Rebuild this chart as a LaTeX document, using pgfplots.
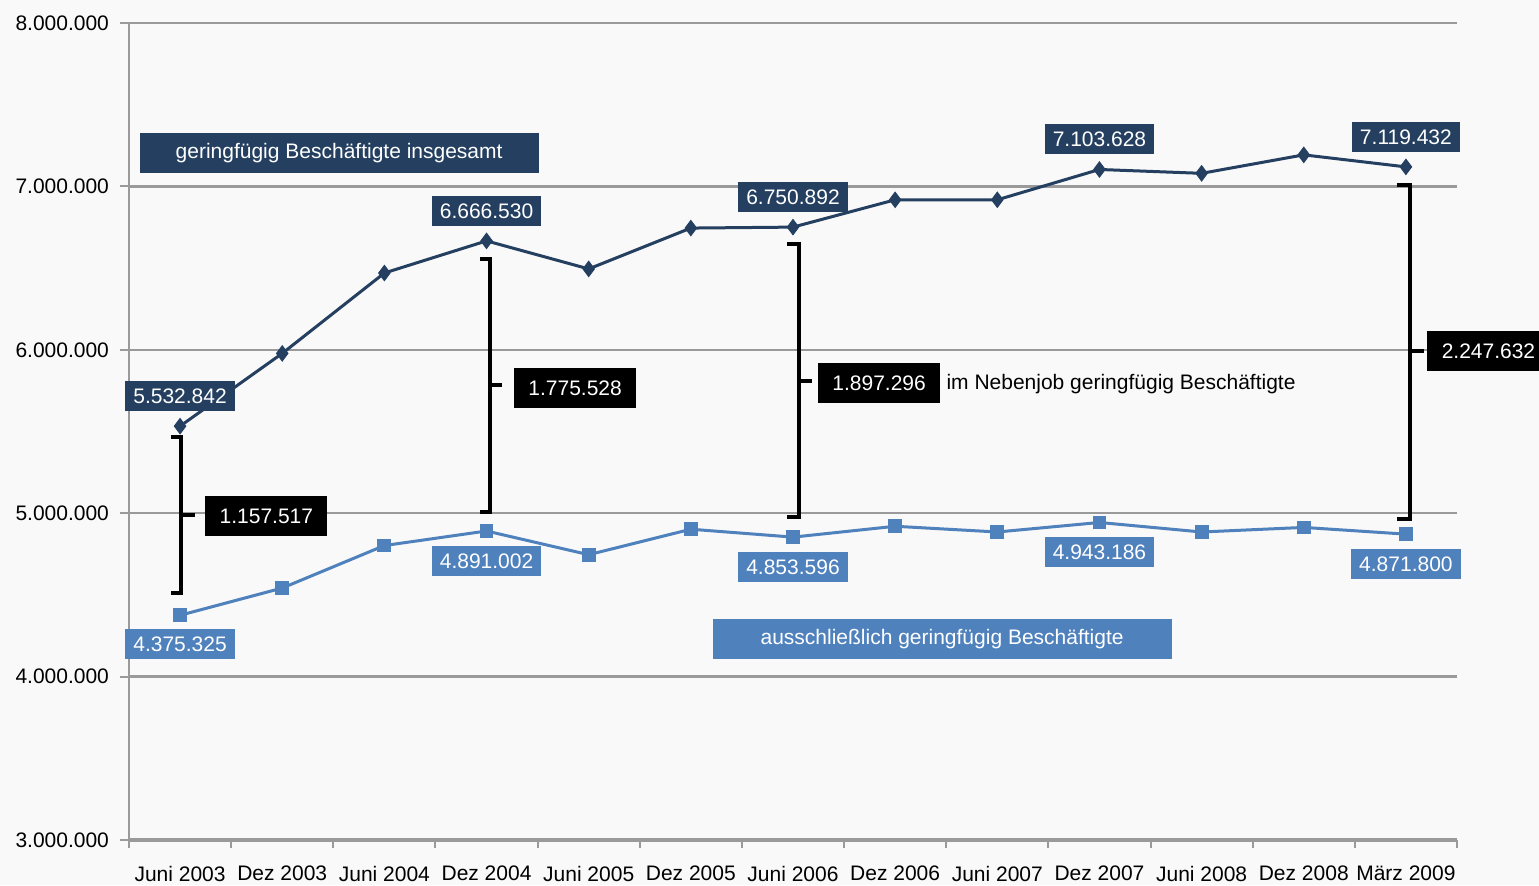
\documentclass[border=0pt]{standalone}
\usepackage{pgfplots}
\pgfplotsset{compat=1.18}
\usepackage{fontspec}
\setmainfont{Liberation Sans}
\definecolor{dark}{HTML}{243F60}
\definecolor{light}{HTML}{4F81BD}
\definecolor{gridc}{HTML}{9A9A9A}
\definecolor{bg}{HTML}{F9F9F9}
\begin{document}
\begin{tikzpicture}[font=\fontsize{10.5}{12}\selectfont]
\fill[bg] (-64.5pt,-22.5pt) rectangle (705pt,420pt);
\begin{axis}[
  at={(0,0)}, anchor=south west,
  width=664pt, height=408.5pt, scale only axis,
  xmin=-0.5, xmax=12.5, ymin=3000000, ymax=8000000,
  clip=false,
  axis lines=left,
  axis line style={-, gridc, line width=1pt},
  x axis line style={line width=1.6pt},
  tick align=outside,
  xtick={0,1,2,3,4,5,6,7,8,9,10,11,12},
  xticklabels={Juni 2003, Dez 2003, Juni 2004, Dez 2004, Juni 2005, Dez 2005, Juni 2006, Dez 2006, Juni 2007, Dez 2007, Juni 2008, Dez 2008, März 2009},
  major x tick style={draw=none},
  minor xtick={-0.5,0.5,1.5,2.5,3.5,4.5,5.5,6.5,7.5,8.5,9.5,10.5,11.5,12.5},
  minor x tick style={gridc, line width=1pt},
  minor tick length=4pt,
  ytick={3000000,4000000,5000000,6000000,7000000,8000000},
  yticklabels={3.000.000,4.000.000,5.000.000,6.000.000,7.000.000,8.000.000},
  major y tick style={gridc, line width=1pt},
  major tick length=4.5pt,
  ymajorgrids, major grid style={gridc, line width=1.2pt},
  yticklabel style={xshift=-2pt},
  xticklabel style={yshift=-5pt},
  scaled y ticks=false,
]
\addplot[dark, line width=1.5pt, mark=diamond*, mark size=3.8pt, mark options={fill=dark, draw=dark, line width=0.5pt, /pgf/mark/aspect ratio/.default=0.85}] table {
x y
0 5532842
1 5978000
2 6470000
3 6666530
4 6495000
5 6745000
6 6750892
7 6918000
8 6918000
9 7103628
10 7080000
11 7193000
12 7119432
};
\addplot[light, line width=1.5pt, mark=square*, mark size=3.2pt, mark options={fill=light, draw=light, line width=0.5pt}] table {
x y
0 4375325
1 4542000
2 4802000
3 4891002
4 4746000
5 4902000
6 4853596
7 4920000
8 4885000
9 4943186
10 4885000
11 4913000
12 4871800
};
% data labels
\tikzset{dlab/.style={fill=dark, text=white, inner xsep=4pt, inner ysep=0pt, minimum height=15pt},
         llab/.style={fill=light, text=white, inner xsep=4pt, inner ysep=0pt, minimum height=15pt},
         blab/.style={fill=black, text=white, inner sep=0pt, minimum width=61pt, minimum height=20pt}}
\node[dlab, yshift=15pt] at (axis cs:0,5532842) {5.532.842};
\node[dlab, yshift=15pt] at (axis cs:3,6666530) {6.666.530};
\node[dlab, yshift=15pt] at (axis cs:6,6750892) {6.750.892};
\node[dlab, yshift=15pt] at (axis cs:9,7103628) {7.103.628};
\node[dlab, yshift=15pt] at (axis cs:12,7119432) {7.119.432};
\node[llab, yshift=-14.5pt] at (axis cs:0,4375325) {4.375.325};
\node[llab, yshift=-15pt] at (axis cs:3,4891002) {4.891.002};
\node[llab, yshift=-15pt] at (axis cs:6,4853596) {4.853.596};
\node[llab, yshift=-15pt] at (axis cs:9,4943186) {4.943.186};
\node[llab, yshift=-15pt] at (axis cs:12,4871800) {4.871.800};
% series name boxes
\node[fill=dark, text=white, minimum width=199.5pt, minimum height=20pt, inner sep=0pt] at (axis cs:1.557,7204000) {geringfügig Beschäftigte insgesamt};
\node[fill=light, text=white, minimum width=229.5pt, minimum height=20pt, inner sep=0pt] at (axis cs:7.46,4230000) {ausschließlich geringfügig Beschäftigte};
% brackets
\tikzset{brk/.style={black, line width=1.7pt}}
\draw[brk] (axis cs:-0.09,5466000) -- (axis cs:0.01,5466000) -- (axis cs:0.01,4512000) -- (axis cs:-0.09,4512000);
\draw[brk] (axis cs:0.01,4989000) -- (axis cs:0.147,4989000);
\node[blab] at (axis cs:0.845,4983000) {1.157.517};
\draw[brk] (axis cs:2.937,6556000) -- (axis cs:3.035,6556000) -- (axis cs:3.035,5007000) -- (axis cs:2.937,5007000);
\draw[brk] (axis cs:3.035,5785000) -- (axis cs:3.15,5785000);
\node[blab] at (axis cs:3.867,5766000) {1.775.528};
\draw[brk] (axis cs:5.94,6647000) -- (axis cs:6.06,6647000) -- (axis cs:6.06,4977000) -- (axis cs:5.94,4977000);
\draw[brk] (axis cs:6.06,5809000) -- (axis cs:6.19,5809000);
\node[blab] at (axis cs:6.843,5797000) {1.897.296};
\node[anchor=west, inner sep=0pt] at (axis cs:7.499,5791000) {im Nebenjob geringfügig Beschäftigte};
\draw[brk] (axis cs:11.91,7009000) -- (axis cs:12.04,7009000) -- (axis cs:12.04,4964000) -- (axis cs:11.91,4964000);
\draw[brk] (axis cs:12.04,5993000) -- (axis cs:12.18,5993000);
\node[blab, anchor=west] at (axis cs:12.207,5993000) {2.247.632};
\end{axis}
\pgfresetboundingbox
\useasboundingbox (-64.5pt,-22.5pt) rectangle (705pt,420pt);
\end{tikzpicture}
\end{document}
